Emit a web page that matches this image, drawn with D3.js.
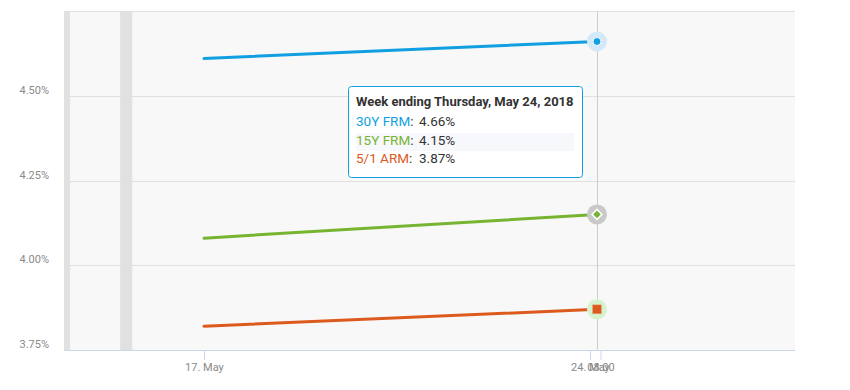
<!DOCTYPE html>
<html>
<head>
<meta charset="utf-8">
<script src="https://cdn.jsdelivr.net/npm/d3@7"></script>
<style>
  body { margin: 0; background: #fff; }
  svg { font-family: Roboto, "Noto Sans", sans-serif; }
</style>
</head>
<body>
<div id="chart"></div>
<script>
// values (weekly mortgage rates, %)
const weeks = ["2018-05-17", "2018-05-24"];
const seriesNames = ["30Y FRM", "15Y FRM", "5/1 ARM"];
const seriesColors = ["#109fe1", "#76b431", "#dc5a1d"];
const haloColors = ["#d3e8f8", "#c9c9c9", "#d6f3cf"];
const markerShapes = ["circle", "diamond", "square"];
const rate30 = [4.61, 4.66];
const rate15 = [4.08, 4.15];
const rateArm = [3.82, 3.87];
const yTicks = [3.75, 4.00, 4.25, 4.50];
// x-axis ticks as drawn by the original stock chart (overlapping labels)
const xTickDates = ["2018-05-17T00:00", "2018-05-23T21:00", "2018-05-24T01:30"];
const xTickLabels = ["17. May", "24. May", "08:00"];
// shaded bands on the time axis
const bands = [["2018-05-14T12:10", "2018-05-14T14:45"], ["2018-05-15T12:10", "2018-05-15T17:20"]];
const tooltipTitle = "Week ending Thursday, May 24, 2018";

const width = 850, height = 390;
const margin = {top: 11, right: 55, bottom: 40, left: 64};
const innerW = width - margin.left - margin.right;
const innerH = height - margin.top - margin.bottom;

const parse = d3.timeParse("%Y-%m-%d");
const parseT = d3.timeParse("%Y-%m-%dT%H:%M");
const allSeries = [rate30, rate15, rateArm].map((vals, i) => ({
  name: seriesNames[i], color: seriesColors[i], halo: haloColors[i], shape: markerShapes[i],
  values: vals.map((v, j) => ({date: parse(weeks[j]), value: v}))
}));

let svg = d3.select("#chart").append("svg")
    .attr("width", width)
    .attr("height", height);
let g = svg.append("g").attr("transform", `translate(${margin.left},${margin.top})`);

let x = d3.scaleTime()
    .domain([parseT("2018-05-14T12:10"), parseT("2018-05-27T12:39")])
    .range([0, innerW]);
let y = d3.scaleLinear()
    .domain([3.75, 4.75])
    .range([innerH, 0]);

// plot background
g.append("rect")
    .attr("width", innerW).attr("height", innerH)
    .attr("fill", "#f8f8f8");
g.selectAll(".band").data(bands).enter().append("rect")
    .attr("x", d => x(parseT(d[0])))
    .attr("width", d => x(parseT(d[1])) - x(parseT(d[0])))
    .attr("y", 0).attr("height", innerH)
    .attr("fill", "#e1e1e1");

// grid lines
g.selectAll(".grid").data(yTicks.concat([4.75])).enter().append("line")
    .attr("x1", 0).attr("x2", innerW)
    .attr("y1", d => Math.round(y(d)) + 0.5).attr("y2", d => Math.round(y(d)) + 0.5)
    .attr("stroke", "#e0e0e0");

// y labels
g.selectAll(".ylab").data(yTicks).enter().append("text")
    .attr("x", -15)
    .attr("y", d => y(d) - 2)
    .attr("text-anchor", "end")
    .attr("fill", "#8a8a8a")
    .style("font-size", "11px")
    .text(d => d3.format(".2f")(d) + "%");

// x axis
let xAxis = g.append("g")
    .attr("transform", `translate(0,${innerH})`)
    .call(d3.axisBottom(x)
        .tickValues(xTickDates.map(parseT))
        .tickFormat((d, i) => xTickLabels[i])
        .tickSize(10).tickPadding(3));
xAxis.select(".domain").attr("stroke", "#ccd6eb").attr("d", `M0.5,0.5H${innerW}`);
xAxis.selectAll(".tick line").attr("stroke", "#ccd6eb");
xAxis.selectAll(".tick text").attr("fill", "#8a8a8a").style("font-size", "11px")
    .style("font-family", "Roboto, sans-serif");

// crosshair at hovered point
let hoverDate = parse(weeks[1]);
g.append("line")
    .attr("x1", Math.round(x(hoverDate)) + 0.5).attr("x2", Math.round(x(hoverDate)) + 0.5)
    .attr("y1", 0).attr("y2", innerH)
    .attr("stroke", "#cccccc");

// lines
let line = d3.line().x(d => x(d.date)).y(d => y(d.value));
g.selectAll(".series").data(allSeries).enter().append("path")
    .attr("d", d => line(d.values))
    .attr("fill", "none")
    .attr("stroke", d => d.color)
    .attr("stroke-width", 3)
    .attr("stroke-linecap", "round");

// hover markers with halos
allSeries.forEach(s => {
  let p = s.values[s.values.length - 1];
  let cx = x(p.date), cy = y(p.value);
  g.append("circle").attr("cx", cx).attr("cy", cy).attr("r", 10)
      .attr("fill", s.halo);
  if (s.shape === "circle") {
    g.append("circle").attr("cx", cx).attr("cy", cy).attr("r", 4)
        .attr("fill", s.color).attr("stroke", "#fff").attr("stroke-width", 1);
  } else if (s.shape === "diamond") {
    g.append("path")
        .attr("d", `M${cx},${cy - 5}L${cx + 5},${cy}L${cx},${cy + 5}L${cx - 5},${cy}Z`)
        .attr("fill", s.color).attr("stroke", "#fff").attr("stroke-width", 1.5);
  } else {
    g.append("rect").attr("x", cx - 4.5).attr("y", cy - 4.5).attr("width", 9).attr("height", 9)
        .attr("fill", s.color).attr("stroke", "#e8b090").attr("stroke-width", 0.5);
  }
});

// tooltip
let tip = svg.append("g").attr("transform", "translate(348,86)");
tip.append("rect")
    .attr("x", 0.5).attr("y", 0.5).attr("width", 234).attr("height", 91)
    .attr("rx", 3)
    .attr("fill", "#ffffff").attr("fill-opacity", 0.96)
    .attr("stroke", seriesColors[0]).attr("stroke-width", 1);
tip.append("rect")
    .attr("x", 8).attr("y", 47).attr("width", 218).attr("height", 18)
    .attr("fill", "#f6f8fc");
tip.append("text")
    .attr("x", 8).attr("y", 20)
    .attr("fill", "#333").style("font-size", "13px").style("font-weight", "bold")
    .text(tooltipTitle);
allSeries.forEach((s, i) => {
  let t = tip.append("text")
      .attr("x", 8).attr("y", 40 + i * 18.5)
      .style("font-size", "13.5px");
  t.append("tspan").attr("fill", s.color).text(s.name);
  t.append("tspan").attr("fill", "#333").text(":");
  tip.append("text")
      .attr("x", 71).attr("y", 40 + i * 18.5)
      .attr("fill", "#333")
      .style("font-size", "13.5px")
      .text(d3.format(".2f")(s.values[s.values.length - 1].value) + "%");
});
</script>
</body>
</html>
